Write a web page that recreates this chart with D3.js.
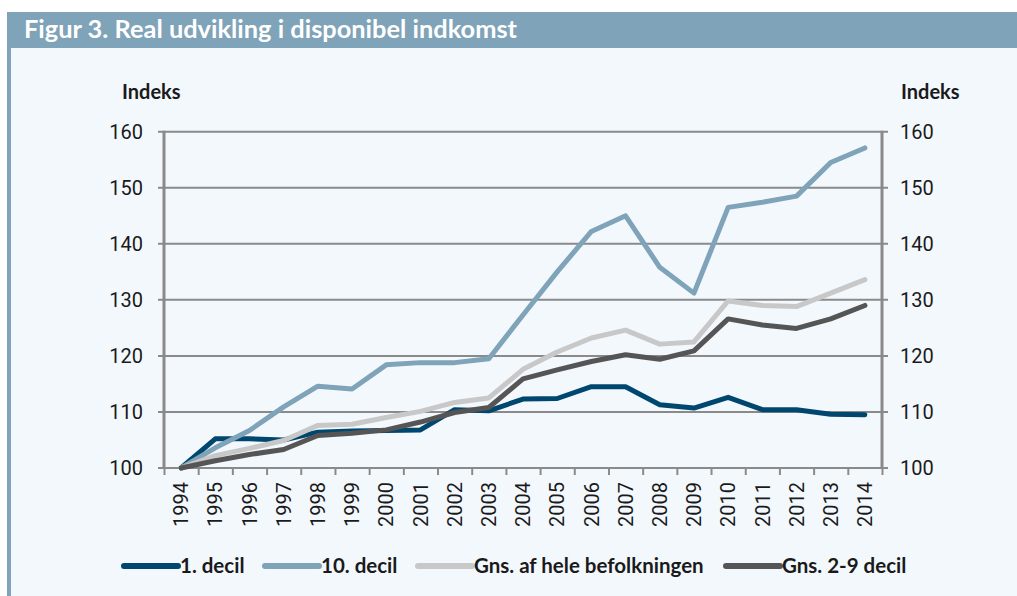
<!DOCTYPE html>
<html>
<head>
<meta charset="utf-8">
<script src="https://cdn.jsdelivr.net/npm/d3@7"></script>
<style>
  body { margin: 0; background: #ffffff; }
  svg { display: block; }
</style>
</head>
<body>
<script>
// Data (index, 1994 = 100)
const years = ["1994","1995","1996","1997","1998","1999","2000","2001","2002","2003","2004",
               "2005","2006","2007","2008","2009","2010","2011","2012","2013","2014"];
const decil1 = [100, 105.2, 105.2, 105.0, 106.4, 106.6, 106.7, 106.8, 110.4, 110.2, 112.3,
                112.4, 114.5, 114.5, 111.3, 110.7, 112.6, 110.4, 110.4, 109.6, 109.5];
const decil10 = [100, 103.6, 106.7, 110.9, 114.6, 114.1, 118.4, 118.8, 118.8, 119.5, 127.3,
                 135.0, 142.2, 145.0, 135.8, 131.2, 146.5, 147.4, 148.5, 154.5, 157.1];
const gnsHele = [100, 102.2, 103.5, 104.9, 107.6, 107.8, 109.0, 110.1, 111.7, 112.5, 117.6,
                 120.7, 123.2, 124.6, 122.1, 122.5, 129.8, 129.0, 128.8, 131.2, 133.6];
const gns29 = [100, 101.3, 102.4, 103.3, 105.8, 106.2, 106.8, 108.2, 109.9, 110.8, 115.9,
               117.5, 119.0, 120.2, 119.4, 120.9, 126.6, 125.5, 124.9, 126.6, 129.0];
const seriesNames = ["1. decil", "10. decil", "Gns. af hele befolkningen", "Gns. 2-9 decil"];
const seriesColors = ["#00476f", "#7fa3b8", "#c8c8c8", "#555555"];
const yTicks = [100, 110, 120, 130, 140, 150, 160];

const W = 1017, H = 596;
const svg = d3.select("body").append("svg").attr("width", W).attr("height", H);

// panel and title bar
svg.append("rect").attr("x", 7).attr("y", 12).attr("width", W - 7).attr("height", H - 12)
  .attr("fill", "#f3f8fd");
svg.append("rect").attr("x", 7).attr("y", 12).attr("width", 4).attr("height", H - 12)
  .attr("fill", "#7fa3b8");
svg.append("rect").attr("x", 7).attr("y", 12).attr("width", W - 7).attr("height", 36)
  .attr("fill", "#7fa3b8");
svg.append("text").attr("x", 24).attr("y", 38)
  .attr("font-family", "Lato").attr("font-weight", "bold").attr("font-size", 24)
  .attr("textLength", 493).attr("lengthAdjust", "spacingAndGlyphs")
  .attr("fill", "#ffffff").text("Figur 3. Real udvikling i disponibel indkomst");

const plotLeft = 164, plotRight = 882, plotTop = 131.7, plotBottom = 468;
const x = d3.scaleBand().domain(years).range([plotLeft, plotRight]).padding(0);
const xEdge = d3.scaleLinear().domain([0, years.length]).range([plotLeft, plotRight]);
const y = d3.scaleLinear().domain([100, 160]).range([plotBottom, plotTop]);

const gridColor = "#8a8a8a";

// horizontal gridlines (extend a little past both axes as ticks)
svg.append("g").selectAll("line").data(yTicks).join("line")
  .attr("x1", plotLeft - 6).attr("x2", plotRight + 6)
  .attr("y1", d => y(d)).attr("y2", d => y(d))
  .attr("stroke", gridColor).attr("stroke-width", 2);

// bottom category ticks
const xAxis = svg.append("g").attr("transform", `translate(0,${plotBottom})`)
  .call(d3.axisBottom(xEdge).ticks(years.length).tickFormat("").tickSize(7).tickSizeOuter(0));
xAxis.select(".domain").remove();
xAxis.selectAll(".tick line").attr("stroke", gridColor).attr("stroke-width", 2);

// vertical axes
[plotLeft, plotRight].forEach(xx => {
  svg.append("line").attr("x1", xx).attr("x2", xx).attr("y1", plotTop - 1).attr("y2", plotBottom + 1)
    .attr("stroke", gridColor).attr("stroke-width", 3);
});

// y labels
const tickFont = "Roboto";
svg.append("g").selectAll("text").data(yTicks).join("text")
  .attr("x", 143).attr("y", d => y(d)).attr("dy", "0.36em")
  .attr("text-anchor", "end").attr("font-family", tickFont).attr("font-size", 20)
  .attr("fill", "#1a1a1a").text(d => d);
svg.append("g").selectAll("text").data(yTicks).join("text")
  .attr("x", 900).attr("y", d => y(d)).attr("dy", "0.36em")
  .attr("text-anchor", "start").attr("font-family", tickFont).attr("font-size", 20)
  .attr("fill", "#1a1a1a").text(d => d);

svg.append("text").attr("x", 122).attr("y", 99)
  .attr("font-family", "Lato").attr("font-weight", "bold").attr("font-size", 20)
  .attr("fill", "#1a1a1a").text("Indeks");
svg.append("text").attr("x", 901).attr("y", 99)
  .attr("font-family", "Lato").attr("font-weight", "bold").attr("font-size", 20)
  .attr("fill", "#1a1a1a").text("Indeks");

// year labels, rotated
svg.append("g").selectAll("text").data(years).join("text")
  .attr("transform", d => `translate(${x(d) + x.bandwidth() / 2},482) rotate(-90)`)
  .attr("dy", "0.36em").attr("text-anchor", "end")
  .attr("font-family", tickFont).attr("font-size", 20).attr("fill", "#1a1a1a")
  .text(d => d);

// lines
const allSeries = [decil1, decil10, gnsHele, gns29];
const line = d3.line()
  .x((d, i) => x(years[i]) + x.bandwidth() / 2)
  .y(d => y(d));
svg.append("g").selectAll("path").data(allSeries).join("path")
  .attr("d", line)
  .attr("fill", "none")
  .attr("stroke", (d, i) => seriesColors[i])
  .attr("stroke-width", 5)
  .attr("stroke-linejoin", "round")
  .attr("stroke-linecap", "round");

// legend
const legendX = [124, 265, 418, 726];
const lg = svg.append("g").selectAll("g").data(seriesNames).join("g")
  .attr("transform", (d, i) => `translate(${legendX[i]},566)`);
lg.append("line").attr("x1", 0).attr("x2", 54).attr("y1", 0).attr("y2", 0)
  .attr("stroke", (d, i) => seriesColors[i]).attr("stroke-width", 6)
  .attr("stroke-linecap", "round");
lg.append("text").attr("x", 56).attr("y", 0).attr("dy", "0.36em")
  .attr("font-family", "Lato").attr("font-weight", "bold").attr("font-size", 20.5)
  .attr("fill", "#1a1a1a").text(d => d);
</script>
</body>
</html>
